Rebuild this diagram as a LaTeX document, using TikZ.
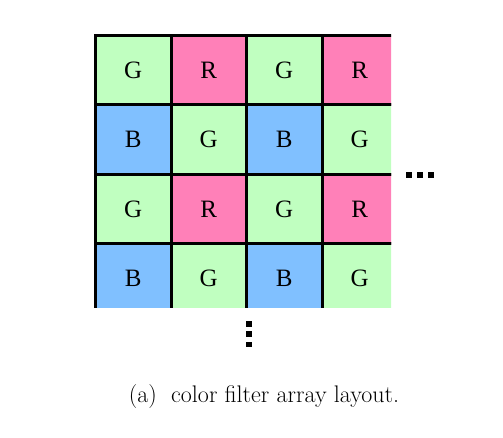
\documentclass[tikz,border=0pt]{standalone}
\usepackage{fontspec}
\newfontfamily\cellfont{Liberation Serif}
\definecolor{cfagreen}{RGB}{192,255,192}
\definecolor{cfared}{RGB}{255,128,184}
\definecolor{cfablue}{RGB}{128,192,255}
\begin{document}
\begin{tikzpicture}[x=1pt,y=-1pt,
  pixel/.style={draw,line width=3pt,minimum width=75.5pt,minimum height=69.5pt,
    inner sep=0pt,font=\cellfont\fontsize{25}{30}\selectfont},
  gpix/.style={pixel,fill=cfagreen},
  rpix/.style={pixel,fill=cfared},
  bpix/.style={pixel,fill=cfablue},
  dot/.style={fill=black,inner sep=0pt,minimum width=6pt,minimum height=5.5pt}]
\useasboundingbox (0,0) rectangle (503,438);
\begin{scope}
\clip (93,33) rectangle (391,307);
\node[gpix] (c11) at (133.25,70.25) {G};
\node[rpix] (c12) at (208.75,70.25) {R};
\node[gpix] (c13) at (284.25,70.25) {G};
\node[rpix] (c14) at (359.75,70.25) {R};
\node[bpix] (c21) at (133.25,139.75) {B};
\node[gpix] (c22) at (208.75,139.75) {G};
\node[bpix] (c23) at (284.25,139.75) {B};
\node[gpix] (c24) at (359.75,139.75) {G};
\node[gpix] (c31) at (133.25,209.25) {G};
\node[rpix] (c32) at (208.75,209.25) {R};
\node[gpix] (c33) at (284.25,209.25) {G};
\node[rpix] (c34) at (359.75,209.25) {R};
\node[bpix] (c41) at (133.25,278.75) {B};
\node[gpix] (c42) at (208.75,278.75) {G};
\node[bpix] (c43) at (284.25,278.75) {B};
\node[gpix] (c44) at (359.75,278.75) {G};
\end{scope}
% continuation marks
\node[dot] (h1) at (408.5,175) {};
\node[dot] (h2) at (419.5,175) {};
\node[dot] (h3) at (431,175) {};
\node[dot] (v1) at (248.7,324) {};
\node[dot] (v2) at (248.7,334) {};
\node[dot] (v3) at (248.7,344.7) {};
\node[anchor=base,inner sep=0pt,font=\fontsize{24}{29}\selectfont] (cap) at (264,402)
  {(a)\hspace{0.6em}color filter array layout.};
\end{tikzpicture}
\end{document}
